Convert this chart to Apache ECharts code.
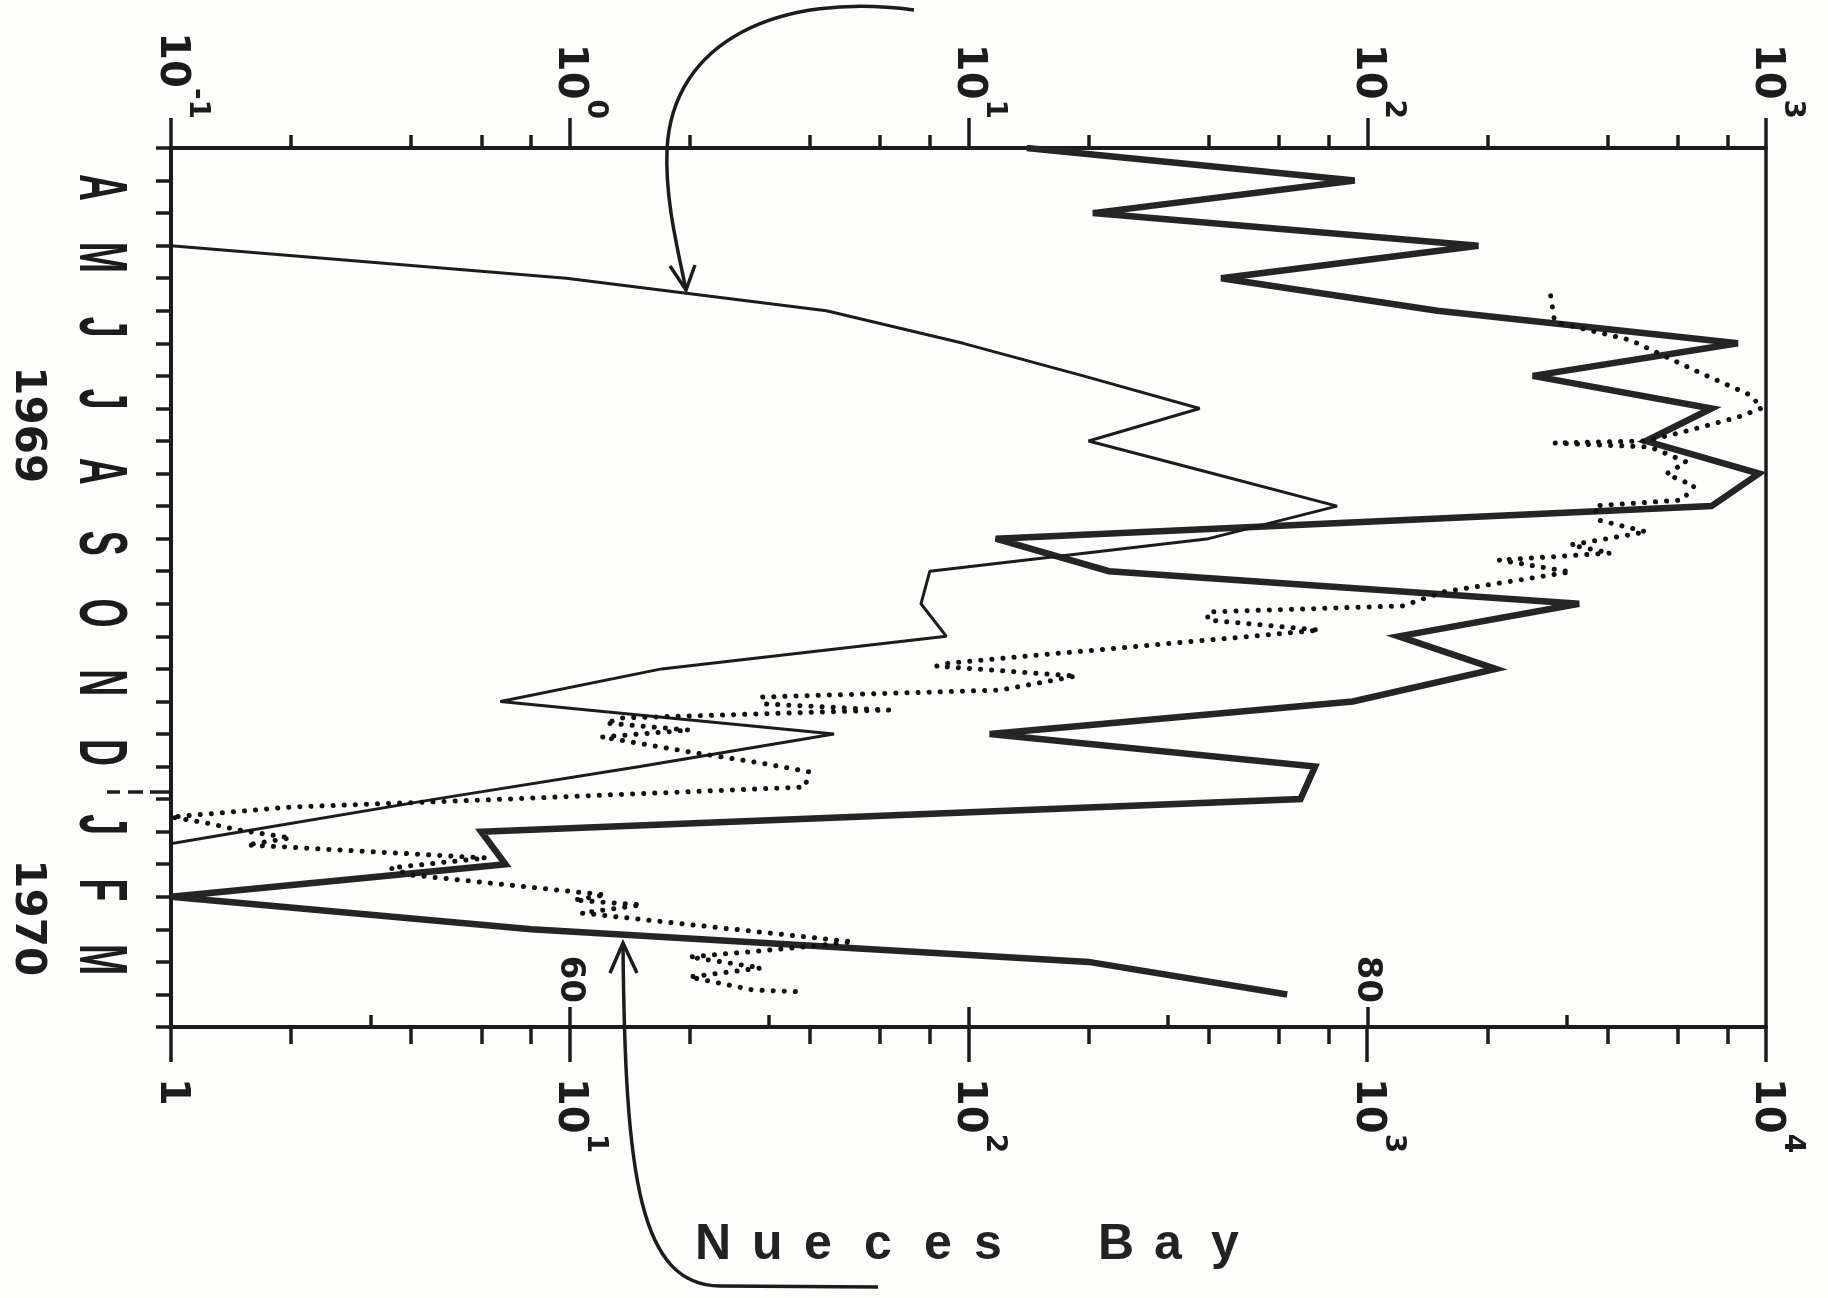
<!DOCTYPE html>
<html>
<head>
<meta charset="utf-8">
<script src="https://cdn.jsdelivr.net/npm/echarts@6/dist/echarts.min.js"></script>
<style>
html, body { margin: 0; padding: 0; background: #fdfdfc; }
#chart { width: 1828px; height: 1298px; }
</style>
</head>
<body>
<div id="chart"></div>
<script>
// Days counted from 30 March 1969; stations were sampled every two weeks.
const flowDays = [0, 14, 28, 42, 56, 70, 84, 98, 112, 126, 140, 154, 168, 182, 196, 210, 224, 238, 252, 266, 280, 294, 308, 322, 336, 350, 364];
const flowValues = [140, 930, 205, 1900, 430, 1500, 8500, 2600, 7300, 5000, 9600, 7300, 117, 225, 3400, 1200, 2100, 920, 113, 740, 680, 6.0, 6.9, 1.0, 8.0, 200, 630];

const thinDays = [42, 56, 70, 84, 98, 112, 126, 140, 154, 168, 182, 196, 210, 224, 238, 252, 266, 280, 294, 308];
const thinValues = [0.1, 0.98, 4.4, 9.7, 19.4, 38, 20, 41, 84, 40, 8.0, 7.6, 8.8, 1.7, 0.67, 4.6, 1.5, 0.46, 0.15, 0.05];

// Water temperature (deg F) trace
const tempDays = [63.6, 74.8, 82.6, 96.3, 106.2, 111.8, 115.7, 121.3, 126.0, 126.9, 128.6, 135.0, 140.2, 145.3, 151.4, 153.9, 160.0, 165.1, 170.7, 174.2, 177.2, 182.3, 190.9, 196.9, 199.5, 203.0, 207.3, 210.7, 221.5, 222.8, 227.1, 233.1, 236.1, 239.1, 241.7, 245.1, 247.3, 250.3, 253.3, 259.7, 264.5, 268.3, 274.8, 280.4, 283.4, 287.7, 290.3, 293.3, 296.7, 299.7, 305.3, 309.6, 312.6, 321.2, 323.4, 325.5, 329.0, 341.4, 344.0, 347.9, 352.6, 356.5, 362.1, 362.9];
const tempValues = [84.6, 84.7, 86.6, 88.3, 89.6, 89.9, 89.3, 88.1, 87.0, 84.7, 87.1, 88.0, 87.5, 88.2, 87.9, 85.7, 85.8, 87.0, 85.1, 86.1, 83.3, 85.1, 81.9, 80.9, 76.0, 76.0, 78.8, 76.6, 69.5, 69.2, 72.7, 70.8, 64.8, 64.9, 68.0, 61.3, 60.9, 63.0, 60.8, 63.0, 64.8, 66.0, 65.9, 57.8, 53.0, 50.0, 50.9, 51.7, 53.0, 51.9, 57.9, 55.5, 56.0, 60.9, 60.1, 61.8, 60.3, 67.1, 65.6, 63.0, 64.8, 63.0, 64.6, 65.9];

const monthLabels = ['A', 'M', 'J', 'J', 'A', 'S', 'O', 'N', 'D', 'J', 'F', 'M'];
const monthDays = [17, 47, 77, 108, 139, 170, 200, 230, 260, 291, 319, 349];
const yearLabels = ['1969', '1970'];
const yearDays = [119, 331];
const newYearDay = [277];

const topDecades = [0.1, 1, 10, 100, 1000];
const topMinor = [0.2, 0.4, 0.6, 0.8, 2, 4, 6, 8, 20, 40, 60, 80, 200, 400, 600, 800];
const bottomDecades = [1, 10, 100, 1000, 10000];
const bottomMinor = [2, 4, 6, 8, 20, 40, 60, 80, 200, 400, 600, 800, 2000, 4000, 6000, 8000];
const tempMajor = [60, 70, 80];
const tempMinor = [55, 65, 75, 85];
const tempLabels = [60, 80];

const INK = '#1c1c1c';
const NUM_FONT = 'DejaVu Sans';

const powRich = {
  b: { fontSize: 40, fontWeight: 'bold', fontFamily: NUM_FONT, color: INK, lineHeight: 80 },
  s: { fontSize: 28, fontWeight: 'bold', fontFamily: NUM_FONT, color: INK, lineHeight: 28, verticalAlign: 'top' }
};
function powLabel(v) {
  const e = Math.round(Math.log10(v));
  return '{b|10}{s|' + (e < 0 ? '-' + (-e) : e) + '}';
}

const noLine = { show: false, onZero: false };
const grid = { left: 171, top: 148, width: 1595, height: 879 };
const dayRange = { min: 0, max: 378, inverse: true };

const chart = echarts.init(document.getElementById('chart'));
chart.setOption({
  backgroundColor: '#fdfdfc',
  animation: false,
  grid: grid,
  xAxis: [
    { // upper log scale (rotation sign is mirrored on a top axis)
      type: 'log', logBase: 10, min: 0.1, max: 1000, position: 'top',
      axisLine: { show: true, onZero: false, lineStyle: { color: INK, width: 4 } },
      axisTick: { show: true, customValues: topDecades, length: 30, lineStyle: { color: INK, width: 3.5 } },
      axisLabel: { show: true, customValues: topDecades, rotate: 90, margin: 29, formatter: powLabel, rich: powRich },
      splitLine: { show: false }
    },
    {
      type: 'log', logBase: 10, min: 0.1, max: 1000, position: 'top',
      axisLine: noLine,
      axisTick: { show: true, customValues: topMinor, length: 13, lineStyle: { color: INK, width: 3.5 } },
      axisLabel: { show: false }, splitLine: { show: false }
    },
    { // lower log scale
      type: 'log', logBase: 10, min: 1, max: 10000, position: 'bottom',
      axisLine: { show: true, onZero: false, lineStyle: { color: INK, width: 4 } },
      axisTick: { show: true, customValues: bottomDecades, length: 35, lineStyle: { color: INK, width: 3.5 } },
      axisLabel: {
        show: true, customValues: bottomDecades, rotate: -90, margin: 51, rich: powRich,
        formatter: v => (v === 1 ? '{b|1}' : powLabel(v))
      },
      splitLine: { show: false }
    },
    {
      type: 'log', logBase: 10, min: 1, max: 10000, position: 'bottom',
      axisLine: noLine,
      axisTick: { show: true, customValues: bottomMinor, length: 17, lineStyle: { color: INK, width: 3.5 } },
      axisLabel: { show: false }, splitLine: { show: false }
    },
    { // temperature scale, ticks on the inner side
      type: 'value', min: 50, max: 90, position: 'bottom',
      axisLine: noLine,
      axisTick: { show: true, inside: true, customValues: tempMajor, length: 20, lineStyle: { color: INK, width: 3.5 } },
      axisLabel: {
        show: true, inside: true, customValues: tempLabels, rotate: -90, margin: 24,
        fontSize: 34, fontWeight: 'bold', fontFamily: NUM_FONT, color: INK
      },
      splitLine: { show: false }
    },
    {
      type: 'value', min: 50, max: 90, position: 'bottom',
      axisLine: noLine,
      axisTick: { show: true, inside: true, customValues: tempMinor, length: 12, lineStyle: { color: INK, width: 3.5 } },
      axisLabel: { show: false }, splitLine: { show: false }
    }
  ],
  yAxis: [
    Object.assign({
      type: 'value', position: 'left', interval: 14,
      axisLine: { show: true, onZero: false, lineStyle: { color: INK, width: 4 } },
      axisTick: { show: true, length: 15, lineStyle: { color: INK, width: 3.5 } },
      axisLabel: { show: false }, splitLine: { show: false }
    }, dayRange),
    Object.assign({ // year break marker
      type: 'value', position: 'left',
      axisLine: noLine,
      axisTick: { show: true, customValues: newYearDay, length: 64,
        lineStyle: { color: INK, width: 3.5, type: [21, 7, 15, 8, 13, 60] } },
      axisLabel: { show: false }, splitLine: { show: false }
    }, dayRange),
    Object.assign({ // years
      type: 'value', position: 'left',
      axisLine: noLine, axisTick: { show: false },
      axisLabel: {
        show: true, customValues: yearDays, rotate: -90, margin: 123,
        fontSize: 42, fontWeight: 'bold', fontFamily: NUM_FONT, color: INK, lineHeight: 42,
        formatter: v => yearLabels[yearDays.indexOf(v)]
      },
      splitLine: { show: false }
    }, dayRange),
    Object.assign({ // right frame
      type: 'value', position: 'right',
      axisLine: { show: true, onZero: false, lineStyle: { color: INK, width: 3.5 } },
      axisTick: { show: false }, axisLabel: { show: false }, splitLine: { show: false }
    }, dayRange)
  ],
  series: [
    {
      name: 'flow', type: 'line', xAxisIndex: 2, yAxisIndex: 0,
      data: flowDays.map((d, i) => [flowValues[i], d]),
      symbol: 'none', clip: true,
      lineStyle: { color: '#252525', width: 6.5, join: 'miter', miterLimit: 5 }
    },
    {
      name: 'thin', type: 'line', xAxisIndex: 0, yAxisIndex: 0,
      data: thinDays.map((d, i) => [thinValues[i], d]),
      symbol: 'none', clip: true,
      lineStyle: { color: INK, width: 3 }
    },
    {
      name: 'temperature', type: 'line', xAxisIndex: 4, yAxisIndex: 0,
      data: tempDays.map((d, i) => [tempValues[i], d]),
      symbol: 'none', clip: true,
      lineStyle: { color: '#111', width: 5, type: [0.1, 11], cap: 'round' }
    },
    { // month initials beside the time axis
      type: 'custom', xAxisIndex: 0, yAxisIndex: 0, silent: true, clip: false,
      data: monthDays.map(d => [0.1, d]),
      renderItem: (params, api) => {
        const p = api.coord([0.1, api.value(1)]);
        return {
          type: 'text', x: p[0] - 72, y: p[1], rotation: -Math.PI / 2, scaleX: 0.55,
          style: {
            text: monthLabels[params.dataIndex],
            font: 'bold 68px "Liberation Sans", Arial, sans-serif',
            fill: INK, align: 'center', verticalAlign: 'middle',
            textAlign: 'center', textVerticalAlign: 'middle'
          }
        };
      }
    }
  ],
  graphic: [
    // pointer to the thin curve (upper scale)
    { type: 'bezierCurve', silent: true,
      shape: { x1: 914, y1: 10, cpx1: 780, cpy1: -8, cpx2: 672, cpy2: 40, x2: 667, y2: 150 },
      style: { stroke: INK, lineWidth: 3.5, fill: null } },
    { type: 'bezierCurve', silent: true,
      shape: { x1: 667, y1: 150, cpx1: 665, cpy1: 200, cpx2: 678, cpy2: 250, x2: 686, y2: 290 },
      style: { stroke: INK, lineWidth: 3.5, fill: null } },
    { type: 'polyline', silent: true,
      shape: { points: [[670, 266], [686, 290], [695, 265]] },
      style: { stroke: INK, lineWidth: 3.5, fill: null } },
    // pointer to the heavy curve (lower scale)
    { type: 'bezierCurve', silent: true,
      shape: { x1: 623, y1: 945, cpx1: 625, cpy1: 1180, cpx2: 640, cpy2: 1285, x2: 720, y2: 1286 },
      style: { stroke: INK, lineWidth: 3.5, fill: null } },
    { type: 'line', silent: true,
      shape: { x1: 720, y1: 1286, x2: 878, y2: 1287 },
      style: { stroke: INK, lineWidth: 3.5 } },
    { type: 'polyline', silent: true,
      shape: { points: [[610, 973], [623, 943], [637, 973]] },
      style: { stroke: INK, lineWidth: 3.5, fill: null } }
  ].concat(
    [['N', 695], ['u', 752], ['e', 804], ['c', 864], ['e', 924], ['s', 974], ['B', 1098], ['a', 1154], ['y', 1211]]
      .map(([ch, x]) => ({
        type: 'text', silent: true, x: x, y: 1245,
        style: {
          text: ch, font: 'bold 50px "Liberation Sans", Arial, sans-serif', fill: '#222',
          align: 'left', verticalAlign: 'middle', textAlign: 'left', textVerticalAlign: 'middle'
        }
      }))
  )
});
</script>
</body>
</html>
